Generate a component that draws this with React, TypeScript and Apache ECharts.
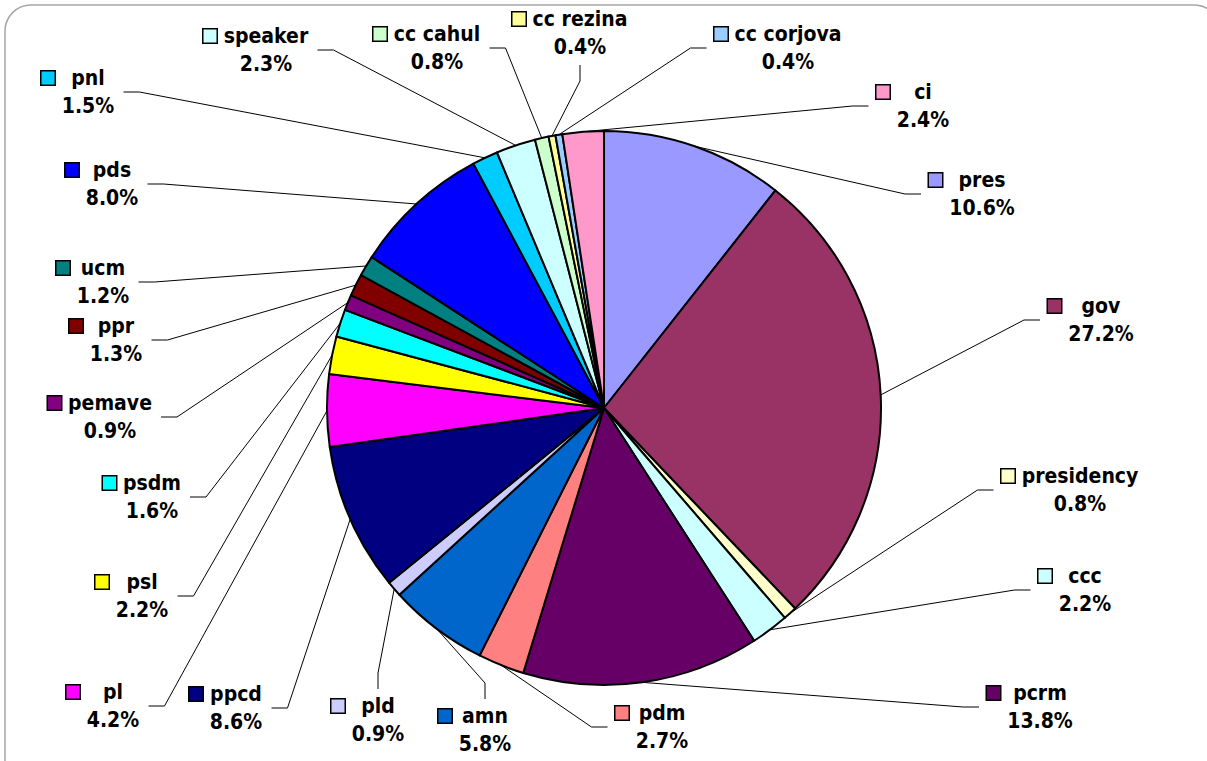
import React, { useEffect, useRef } from "react";
import * as echarts from "echarts";

const categories = [
  "pres", "gov", "presidency", "ccc", "pcrm", "pdm", "amn", "pld", "ppcd", "pl", "psl",
  "psdm", "pemave", "ppr", "ucm", "pds", "pnl", "speaker", "cc cahul", "cc rezina", "cc corjova", "ci",
];
const shares = [
  10.6, 27.2, 0.8, 2.2, 13.8, 2.7, 5.8, 0.9, 8.6, 4.2, 2.2,
  1.6, 0.9, 1.3, 1.2, 8.0, 1.5, 2.3, 0.8, 0.4, 0.4, 2.4,
];
const colors = [
  "#9999FF", "#993366", "#FFFFCC", "#CCFFFF", "#660066", "#FF8080", "#0066CC", "#CCCCFF", "#000080", "#FF00FF", "#FFFF00",
  "#00FFFF", "#800080", "#800000", "#008080", "#0000FF", "#00CCFF", "#CCFFFF", "#CCFFCC", "#FFFF99", "#99CCFF", "#FF99CC",
];
// centre of each label's text block (px)
const labelCentres = [
  [982, 194], [1101, 320], [1080, 490], [1085, 590], [1040, 707], [662, 727], [485, 730], [378, 720], [236, 708], [113, 706], [142, 596],
  [152, 497], [110, 417], [116, 340], [103, 282], [112, 184], [88, 92], [266, 50], [437, 48], [580, 33], [788, 48], [923, 106],
];

const FONT = '"DejaVu Sans Condensed", "DejaVu Sans", sans-serif';
const FS = 21;
const LH = 28;
const SQ = 13;
const GAP = 6;
const PAD = 8;
const SEG = 16;
const CX = 604;
const CY = 408;
const R = 277;

export default function App() {
  const ref = useRef<HTMLDivElement>(null);
  useEffect(() => {
    if (!ref.current) return;
    const chart = echarts.init(ref.current, null, { renderer: "svg" });
    const ctx = document.createElement("canvas").getContext("2d")!;
    ctx.font = `bold ${FS}px ${FONT}`;
    const tw = (s: string) => ctx.measureText(s).width;
    const txt = { fontSize: FS, fontWeight: "bold" as const, fontFamily: FONT, color: "#000", lineHeight: LH };

    const total = shares.reduce((a, b) => a + b, 0);
    const midAngles: number[] = [];
    let acc = 0;
    shares.forEach((v) => {
      midAngles.push(((acc + v / 2) / total) * Math.PI * 2);
      acc += v;
    });

    const widths: number[] = [];
    const data = categories.map((name, i) => {
      const pct = shares[i].toFixed(1) + "%";
      const W = Math.ceil(Math.max(tw(name), tw(pct))) + 2;
      widths.push(W);
      return {
        name,
        value: shares[i],
        itemStyle: { color: colors[i] },
        label: {
          formatter: `{sq|}{g|}{n|${name}}\n{sp|}{g|}{v|${pct}}`,
          rich: {
            sq: { width: SQ, height: SQ, backgroundColor: colors[i], borderColor: "#000", borderWidth: 1.5 },
            sp: { width: SQ, height: SQ },
            g: { width: GAP },
            n: { ...txt, width: W, align: "center" },
            v: { ...txt, width: W, align: "center" },
          },
        },
      };
    });

    chart.setOption({
      animation: false,
      backgroundColor: "#fff",
      graphic: [
        {
          type: "rect",
          z: -10,
          shape: { x: 5, y: 5, width: 1215, height: 790, r: 26 },
          style: { fill: "none", stroke: "#a6a6a6", lineWidth: 1.5 },
        },
      ],
      series: [
        {
          type: "pie",
          center: [CX, CY],
          radius: R,
          startAngle: 90,
          clockwise: true,
          avoidLabelOverlap: false,
          itemStyle: { borderColor: "#000", borderWidth: 2 },
          emphasis: { disabled: true },
          label: {
            show: true,
            position: "outside",
            ...txt,
          },
          labelLine: {
            show: true,
            length: 10,
            length2: 15,
            smooth: false,
            lineStyle: { color: "#000", width: 1 },
          },
          labelLayout: (params: any) => {
            const i = params.dataIndex;
            const c = labelCentres[i];
            const W = widths[i];
            const a = midAngles[i];
            const ax = CX + R * Math.sin(a);
            const ay = CY - R * Math.cos(a);
            const dx = c[0] - ax;
            const dy = c[1] - ay;
            let p2: number[];
            let p1: number[];
            if (Math.abs(dx) > 0.5 * Math.abs(dy)) {
              if (dx > 0) {
                const ex = c[0] - W / 2 - SQ - GAP - PAD;
                p2 = [ex, c[1]];
                p1 = [ex - SEG, c[1]];
              } else {
                const ex = c[0] + W / 2 + PAD;
                p2 = [ex, c[1]];
                p1 = [ex + SEG, c[1]];
              }
            } else {
              const ey = dy > 0 ? c[1] - LH - 3 : c[1] + LH + 4;
              p2 = [c[0], ey];
              p1 = [c[0], dy > 0 ? ey - SEG : ey + SEG];
            }
            return {
              x: c[0] - (SQ + GAP) / 2,
              y: c[1],
              align: "center",
              verticalAlign: "middle",
              hideOverlap: false,
              labelLinePoints: [[ax, ay], p1, p2],
            };
          },
          data,
        },
      ],
    });
    return () => chart.dispose();
  }, []);
  return (
    <div
      ref={ref}
      style={{ position: "absolute", left: 0, top: 0, width: 1207, height: 761 }}
    />
  );
}
